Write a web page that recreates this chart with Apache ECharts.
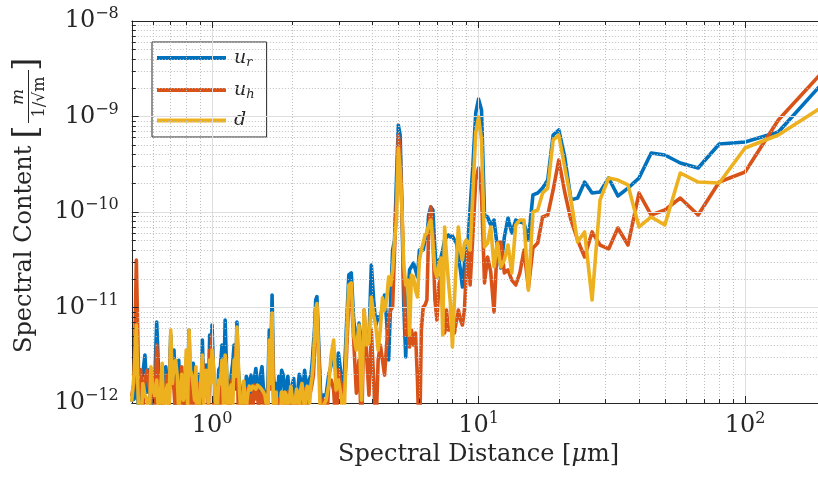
<!DOCTYPE html>
<html><head><meta charset="utf-8">
<script src="https://cdn.jsdelivr.net/npm/echarts@6/dist/echarts.min.js"></script>
<style>html,body{margin:0;padding:0;background:#fff}#c{width:818px;height:482px}</style>
</head><body><div id="c"></div>
<script>
// Spectral distance [um]
const distance = [
0.50,0.51,0.52,0.53,0.54,0.55,0.56,0.57,0.58,0.59,0.60,0.61,0.62,0.63,0.64,0.65,0.66,0.67,0.68,0.69,
0.70,0.71,0.72,0.73,0.74,0.75,0.76,0.77,0.78,0.79,0.80,0.81,0.82,0.83,0.84,0.85,0.86,0.87,0.88,0.89,
0.90,0.91,0.92,0.93,0.94,0.95,0.96,0.97,0.98,0.99,
1.00,1.015,1.03,1.045,1.06,1.075,1.09,1.105,1.12,1.135,1.15,1.165,1.18,1.195,1.21,1.225,1.24,1.255,1.27,1.285,1.30,1.315,1.33,1.345,1.36,1.38,
1.40,1.42,1.44,1.46,1.48,1.50,1.52,1.54,1.56,1.58,1.60,1.62,1.64,1.66,1.68,1.70,1.72,1.74,1.76,1.78,1.80,1.825,
1.85,1.875,1.90,1.925,1.95,1.975,2.00,2.025,2.05,2.075,2.10,2.125,2.15,2.175,2.20,2.225,2.25,2.275,2.30,2.325,2.35,2.375,2.40,2.425,2.45,2.475,2.50,
2.56,2.62,2.68,2.74,2.80,2.86,2.92,2.98,
3.05,3.12,3.19,3.26,3.33,
3.40,3.48,3.56,3.64,3.72,3.80,3.88,3.96,4.04,4.12,4.20,4.28,4.36,4.44,4.52,4.60,4.68,4.76,4.84,4.92,5.00,5.08,5.16,5.24,
5.33,5.42,5.51,5.60,
5.70,5.80,5.90,6.00,6.10,6.20,6.30,6.40,6.50,
6.62,6.74,6.86,6.98,7.10,7.22,7.34,7.46,7.58,7.70,
7.84,7.98,8.12,8.26,8.40,
8.55,8.70,8.85,9.00,9.15,9.30,
9.52,9.76,10.0,10.26,10.53,10.81,11.11,11.43,11.76,12.12,12.5,12.9,13.33,13.79,14.29,14.81,15.38,16.0,16.67,17.39,
18.18,19.05,20.0,21.05,22.22,23.53,25.0,26.67,28.57,30.77,33.33,36.36,40.0,44.44,50.0,57.14,66.67,80.0,100,133.3,200
];
// u_r
const uR = [
1.07e-12,1.1e-12,1.54e-12,9e-13,1.74e-12,2.0e-12,3.18e-12,1.3e-12,2.22e-12,8e-13,1.21e-12,1.8e-12,7.05e-12,2.2e-12,1.37e-12,1.0e-12,1.74e-12,2.4e-12,1.21e-12,1.5e-12,
5.15e-12,1.9e-12,3.59e-12,9e-13,2.22e-12,2.8e-12,1.07e-12,1.4e-12,1.54e-12,9e-13,2.82e-12,1.6e-12,5.81e-12,1.1e-12,2.22e-12,2.6e-12,1.21e-12,1.3e-12,9.5e-13,2.0e-12,
1.74e-12,1.1e-12,4.57e-12,1.5e-12,1.96e-12,2.5e-12,2.22e-12,1.2e-12,5.15e-12,2.2e-12,
6.56e-12,1.6e-12,1.21e-12,9e-13,2.22e-12,2.4e-12,4.05e-12,1.3e-12,7.4e-12,2.0e-12,1.37e-12,9e-13,1.96e-12,2.6e-12,4.05e-12,1.4e-12,7.05e-12,2.2e-12,1.54e-12,1.5e-12,1.07e-12,8e-13,1.21e-12,1.9e-12,1.74e-12,1.2e-12,
1.96e-12,1.1e-12,1.74e-12,2.3e-12,1.54e-12,1.0e-12,1.96e-12,2.4e-12,1.37e-12,1.0e-12,1.21e-12,1.5e-12,5.81e-12,2.5e-12,1.35e-11,2.0e-12,1.21e-12,1.6e-12,9.5e-13,1.9e-12,1.37e-12,2.2e-12,
1.96e-12,1.1e-12,1.54e-12,1.9e-12,1.21e-12,9e-13,1.54e-12,1.8e-12,1.07e-12,1.0e-12,1.37e-12,2.0e-12,1.74e-12,1.2e-12,1.54e-12,2.2e-12,1.74e-12,1.1e-12,1.54e-12,1.8e-12,1.96e-12,2.6e-12,4.05e-12,6.0e-12,1.2e-11,1.3e-11,1.29e-11,
1.07e-12,1.21e-12,1.21e-12,1.96e-12,2.5e-12,3.59e-12,1.96e-12,3.34e-12,
1.96e-12,1.37e-12,5.81e-12,2.19e-11,2.3e-11,
7.4e-12,4.05e-12,6.89e-12,2.82e-12,7.4e-12,4.05e-12,4.57e-12,2.79e-11,1.2e-11,6.56e-12,7.96e-12,7.4e-12,1.06e-11,1.35e-11,7.4e-12,2.82e-12,1.2e-11,4.0e-11,5.09e-11,2.16e-10,8.15e-10,6.4e-10,1.05e-10,1.06e-11,
3.03e-12,1.2e-11,2.47e-11,2.47e-11,
2.92e-11,2.47e-11,2.09e-11,4.0e-11,4.0e-11,4.0e-11,5.09e-11,5.47e-11,9.3e-11,
1.13e-10,1.05e-10,4.0e-11,2.09e-11,3.14e-11,3.3e-11,4.0e-11,5.09e-11,5.34e-11,5.74e-11,
5.47e-11,5.61e-11,5.09e-11,4.73e-11,4.51e-11,
2.47e-11,1.64e-11,2.79e-11,4.73e-11,5.47e-11,5.47e-11,
3.03e-10,1.09e-9,1.52e-9,1.17e-9,9.3e-11,8.87e-11,7.31e-11,8.24e-11,4.3e-11,2.59e-11,5.47e-11,8.66e-11,6.03e-11,8.24e-11,7.85e-11,7.67e-11,5.09e-11,1.51e-10,1.58e-10,1.78e-10,
2.16e-10,6.4e-10,7.22e-10,3.77e-10,1.34e-10,1.4e-10,2.06e-10,1.58e-10,1.62e-10,2.27e-10,1.47e-10,1.78e-10,2.27e-10,4.15e-10,3.95e-10,3.26e-10,2.89e-10,5.15e-10,5.41e-10,6.88e-10,2.41e-9
];
// u_h
const uH = [
1.21e-12,1.6e-12,3.14e-11,2.0e-12,2.22e-12,9e-13,1.74e-12,2.2e-12,1.54e-12,1.2e-12,1.74e-12,8e-13,4.05e-12,1.6e-12,5e-13,7e-13,1.21e-12,1.5e-12,1.96e-12,8e-13,
4.05e-12,2.0e-12,1.37e-12,7e-13,1.74e-12,1.4e-12,5e-13,2.4e-12,1.21e-12,8e-13,2.22e-12,1.3e-12,2.82e-12,9e-13,1.74e-12,1.7e-12,5e-13,7e-13,1.21e-12,1.6e-12,
1.37e-12,9e-13,2.82e-12,2.1e-12,1.54e-12,1.2e-12,1.74e-12,8e-13,3.59e-12,1.8e-12,
5.15e-12,9e-13,1.07e-12,1.5e-12,1.54e-12,8e-13,1.96e-12,1.9e-12,2.82e-12,1.0e-12,1.21e-12,7e-13,1.54e-12,1.6e-12,2.22e-12,2.2e-12,4.57e-12,8e-13,1.21e-12,1.3e-12,5e-13,9e-13,1.07e-12,1.4e-12,1.37e-12,8e-13,
1.21e-12,8e-13,1.54e-12,1.1e-12,1.37e-12,7e-13,1.21e-12,1.3e-12,1.07e-12,8e-13,5e-13,1.0e-12,2.82e-12,1.4e-12,7.4e-12,1.2e-12,5e-13,9e-13,5e-13,1.1e-12,3e-13,8e-13,
9.5e-13,7e-13,1.07e-12,1.3e-12,5e-13,8e-13,1.07e-12,1.2e-12,5e-13,7e-13,1.07e-12,1.3e-12,1.21e-12,9e-13,1.07e-12,1.4e-12,1.21e-12,8e-13,1.3e-12,1.2e-12,1.37e-12,1.6e-12,1.96e-12,3.5e-12,7.4e-12,9.8e-12,9.4e-12,
9.5e-13,1.07e-12,5e-13,1.54e-12,1.74e-12,1.37e-12,5e-13,2.22e-12,
1.54e-12,1.21e-12,2.82e-12,1.2e-11,1.35e-11,
4.57e-12,1.27e-12,2.82e-12,5e-13,9.4e-12,3.18e-12,1.21e-12,5.81e-12,1.74e-12,5e-13,2.82e-12,4.05e-12,2.82e-12,1.96e-12,4.05e-12,7.4e-12,9.4e-12,1.01e-11,4.0e-11,1.34e-10,6.4e-10,4.46e-10,1.05e-10,1.94e-11,
5.15e-12,6.56e-12,3.86e-12,5.81e-12,
4.05e-12,5.41e-12,1.74e-12,3e-13,5.81e-12,1.01e-11,1.06e-11,1.2e-11,6.48e-11,
1.13e-10,5.47e-11,1.2e-11,7.4e-12,1.72e-11,2.09e-11,9.4e-12,5.41e-12,9.4e-12,5.81e-12,
5.81e-12,6.56e-12,5.41e-12,7.4e-12,9.4e-12,
7.4e-12,6.56e-12,9.4e-12,2.47e-11,4.0e-11,1.72e-11,
5.74e-11,2.16e-10,2.89e-10,1.51e-10,1.81e-11,3.38e-11,2.36e-11,8.97e-12,4.73e-11,4.85e-11,2.3e-11,2.47e-11,1.94e-11,1.72e-11,2.3e-11,4.0e-11,1.6e-11,4.2e-11,4.73e-11,8.87e-11,
9.3e-11,1.7e-10,3.5e-10,1.62e-10,8.24e-11,5.09e-11,3.38e-11,6.18e-11,4.51e-11,4.1e-11,6.8e-11,4.51e-11,1.58e-10,9.3e-11,1.05e-10,1.4e-10,9.3e-11,2.06e-10,2.62e-10,9.19e-10,3.14e-9
];
// d
const dS = [
1.07e-12,2.0e-12,6.56e-12,8e-13,5e-13,1.6e-12,1.21e-12,1.1e-12,5e-13,2.4e-12,1.37e-12,1.2e-12,1.74e-12,8e-13,1.21e-12,2.6e-12,5e-13,1.3e-12,1.54e-12,9e-13,
5.81e-12,1.6e-12,2.5e-12,2.8e-12,1.96e-12,8e-13,1.37e-12,2.0e-12,1.07e-12,1.2e-12,3.59e-12,9e-13,5.81e-12,2.2e-12,1.96e-12,1.5e-12,1.07e-12,2.4e-12,5e-13,8e-13,
1.21e-12,1.9e-12,3.18e-12,9e-13,1.74e-12,2.2e-12,1.37e-12,1.0e-12,2.82e-12,1.6e-12,
3.59e-12,2.4e-12,1.07e-12,8e-13,1.74e-12,1.6e-12,2.82e-12,9e-13,3.18e-12,2.2e-12,5e-13,1.3e-12,1.54e-12,8e-13,2.82e-12,1.9e-12,6.26e-12,2.6e-12,1.21e-12,1.2e-12,5e-13,1.7e-12,1.07e-12,9e-13,1.21e-12,1.5e-12,
1.37e-12,1.5e-12,1.44e-12,1.4e-12,1.54e-12,1.6e-12,1.44e-12,1.4e-12,1.3e-12,1.2e-12,9.5e-13,8e-13,4.57e-12,1.6e-12,8.75e-12,9e-13,5e-13,1.3e-12,3e-13,8e-13,5e-13,1.3e-12,
5e-13,1.3e-12,1.21e-12,8e-13,1.07e-12,1.5e-12,1.13e-12,8e-13,9.5e-13,1.4e-12,1.21e-12,9e-13,1.37e-12,1.6e-12,1.21e-12,8e-13,1.13e-12,1.5e-12,1.37e-12,1.0e-12,1.54e-12,1.9e-12,2.82e-12,5.0e-12,9.4e-12,1.1e-11,1.06e-11,
5e-13,9.5e-13,1.07e-12,1.54e-12,3.18e-12,4.57e-12,1.37e-12,1.74e-12,
1.21e-12,5e-13,4.05e-12,1.72e-11,1.81e-11,
5.15e-12,3.59e-12,6.56e-12,1.07e-12,9.4e-12,4.05e-12,4.25e-12,1.29e-11,8.3e-12,6.26e-12,3.59e-12,5.81e-12,1.26e-11,9.4e-12,1.2e-11,2.09e-11,1.72e-11,2.47e-11,5.09e-11,8.24e-11,4.68e-10,2.75e-10,1.05e-10,2.79e-11,
1.72e-11,1.94e-11,5.15e-12,2.19e-11,
2.09e-11,1.52e-11,1.29e-11,3.14e-11,4.0e-11,4.73e-11,5.74e-11,6.03e-11,7.31e-11,
8.24e-11,4.73e-11,2.47e-11,2.09e-11,2.79e-11,3.3e-11,5.15e-12,6.97e-11,3.55e-11,1.94e-11,
1.11e-11,3.86e-12,1.2e-11,3.14e-11,6.97e-11,
4.0e-11,3.14e-11,4.73e-11,5.09e-11,4.51e-11,4.0e-11,
1.58e-10,6.72e-10,9.88e-10,5.67e-10,4.3e-11,4.73e-11,6.97e-11,2.66e-11,4.73e-11,2.66e-11,3.14e-11,4.51e-11,2.3e-11,7.31e-11,8.24e-11,8.24e-11,1.52e-11,1.0e-10,1.05e-10,1.58e-10,
1.78e-10,5.67e-10,6.4e-10,2.96e-10,1.34e-10,4.85e-11,6.18e-11,1.2e-11,1.34e-10,2.27e-10,2.16e-10,1.92e-10,6.97e-11,8.87e-11,7.31e-11,2.56e-10,2.06e-10,2.01e-10,4.68e-10,6.4e-10,1.32e-9
];
const seriesNames = ['u_r', 'u_h', 'd'];
const seriesColors = ['#0072BD', '#D95319', '#EDB120'];
const xMin = 0.5, xMax = 200, yMin = 1e-12, yMax = 1e-8;
const xMajorTicks = [1, 10, 100];
const xMinorTicks = [0.6,0.7,0.8,0.9,2,3,4,5,6,7,8,9,20,30,40,50,60,70,80,90];
const yMajorTicks = [1e-11, 1e-10, 1e-9];
const yMinorMantissa = [2,3,4,5,6,7,8,9];
const yDecades = [1e-12, 1e-11, 1e-10, 1e-9];

const FONT = '"DejaVu Serif", serif';
const TXT = '#262626';

const yMinorTicks = [];
yDecades.forEach(d => yMinorMantissa.forEach(m => yMinorTicks.push(+(m * d).toPrecision(3))));

const minorStyle = {color: '#bdbdbd', width: 1, type: [1, 2]};
const majorStyle = {color: '#dedede', width: 1, type: 'solid'};
const tickStyle = {color: '#262626', width: 1, type: 'solid'};
function seg(a, b, style) { return [{coord: a, lineStyle: style}, {coord: b}]; }

const gridLines = [];
xMinorTicks.forEach(v => gridLines.push(seg([v, yMin], [v, yMax], minorStyle)));
yMinorTicks.forEach(v => gridLines.push(seg([xMin, v], [xMax, v], minorStyle)));
xMajorTicks.forEach(v => gridLines.push(seg([v, yMin], [v, yMax], majorStyle)));
yMajorTicks.forEach(v => gridLines.push(seg([xMin, v], [xMax, v], majorStyle)));
// inward ticks
const fMaj = 1.184, fMin = 1.101, gMaj = 1.062, gMin = 1.035;
xMajorTicks.forEach(v => { gridLines.push(seg([v, yMin], [v, yMin * fMaj], tickStyle)); gridLines.push(seg([v, yMax], [v, yMax / fMaj], tickStyle)); });
xMinorTicks.forEach(v => { gridLines.push(seg([v, yMin], [v, yMin * fMin], tickStyle)); gridLines.push(seg([v, yMax], [v, yMax / fMin], tickStyle)); });
yMajorTicks.forEach(v => gridLines.push(seg([xMin, v], [xMin * gMaj, v], tickStyle)));
yMinorTicks.forEach(v => gridLines.push(seg([xMin, v], [xMin * gMin, v], tickStyle)));

function powLabel(v) {
  const l = Math.log10(v), e = Math.round(l);
  if (Math.abs(l - e) > 1e-6) return '';
  return '{b|10}{s|' + (e < 0 ? '\u2212' : '') + Math.abs(e) + '}';
}
const labelRich = {
  b: {fontFamily: FONT, fontSize: 24, color: TXT},
  s: {fontFamily: FONT, fontSize: 16, color: TXT, padding: [0, 0, 14, 0]}
};

const series = [{
  type: 'line', name: '_grid', data: [], z: 1, silent: true,
  markLine: {silent: true, symbol: ['none', 'none'], label: {show: false}, animation: false, data: gridLines}
}];
[uR, uH, dS].forEach((vals, i) => {
  series.push({
    type: 'line', name: seriesNames[i], z: 3 + i,
    data: distance.map((x, k) => [x, vals[k]]),
    showSymbol: false, clip: true,
    lineStyle: {width: 3.6, color: seriesColors[i], cap: 'round', join: 'round'},
    itemStyle: {color: seriesColors[i]}
  });
});

const chart = echarts.init(document.getElementById('c'), null, {renderer: 'canvas'});
chart.setOption({
  animation: false,
  backgroundColor: '#fff',
  grid: {left: 131.8, top: 21, width: 693.5, height: 382, containLabel: false, outerBoundsMode: 'none'},
  xAxis: [{
    type: 'log', logBase: 10, min: xMin, max: xMax,
    axisLine: {show: true, lineStyle: {color: TXT, width: 1}},
    axisTick: {show: false}, splitLine: {show: false}, minorTick: {show: false},
    axisLabel: {formatter: powLabel, margin: 8, rich: labelRich, showMinLabel: true, showMaxLabel: true, hideOverlap: false},
    name: '{t|Spectral Distance [}{i|\u03bc}{t|m]}', nameLocation: 'middle', nameGap: 38,
    nameTextStyle: {rich: {t: {fontFamily: FONT, fontSize: 24, color: TXT}, i: {fontFamily: FONT, fontStyle: 'italic', fontSize: 24, color: TXT}}}
  }, {
    type: 'log', logBase: 10, min: xMin, max: xMax, position: 'top',
    axisLine: {show: true, lineStyle: {color: TXT, width: 1}},
    axisTick: {show: false}, splitLine: {show: false}, axisLabel: {show: false}
  }],
  yAxis: [{
    type: 'log', logBase: 10, min: yMin, max: yMax,
    axisLine: {show: true, lineStyle: {color: TXT, width: 1}},
    axisTick: {show: false}, splitLine: {show: false}, minorTick: {show: false},
    axisLabel: {formatter: powLabel, margin: 13, rich: labelRich}
  }],
  legend: {
    data: seriesNames, orient: 'vertical', left: 152, top: 42,
    padding: [5, 12, 7, 5], itemGap: 10, itemWidth: 69, itemHeight: 4, icon: 'rect',
    borderColor: '#262626', borderWidth: 1, backgroundColor: '#fff', borderRadius: 0,
    selectedMode: false,
    formatter: n => n === 'u_r' ? '{i|u}{s|r}' : n === 'u_h' ? '{i|u}{s|h}' : '{i|d}',
    textStyle: {rich: {
      i: {fontFamily: FONT, fontStyle: 'italic', fontSize: 19, color: TXT, padding: [0, 0, 0, 3], lineHeight: 20},
      s: {fontFamily: FONT, fontStyle: 'italic', fontSize: 13, color: TXT, padding: [9, 0, 0, 0], lineHeight: 20}
    }}
  },
  graphic: [{
    type: 'group', x: 25, y: 353, rotation: Math.PI / 2, silent: true,
    children: [
      {type: 'text', x: 0, y: 0, style: {text: 'Spectral Content', font: '24px "DejaVu Serif"', fill: TXT, align: 'left', verticalAlign: 'middle'}},
      {type: 'text', x: 221, y: 2, style: {text: '[', font: '34px "DejaVu Serif"', fill: TXT, align: 'center', verticalAlign: 'middle'}},
      {type: 'text', x: 256, y: -6, style: {text: 'm', font: 'italic 17px "DejaVu Serif"', fill: TXT, align: 'center', verticalAlign: 'middle'}},
      {type: 'rect', shape: {x: 230, y: 3, width: 53, height: 1}, style: {fill: TXT}},
      {type: 'text', x: 256, y: 15, style: {text: '1/\u221am', font: '16px "DejaVu Serif"', fill: TXT, align: 'center', verticalAlign: 'middle'}},
      {type: 'text', x: 289, y: 2, style: {text: ']', font: '34px "DejaVu Serif"', fill: TXT, align: 'center', verticalAlign: 'middle'}}
    ]
  }],
  series: series
});
</script>
</body></html>
